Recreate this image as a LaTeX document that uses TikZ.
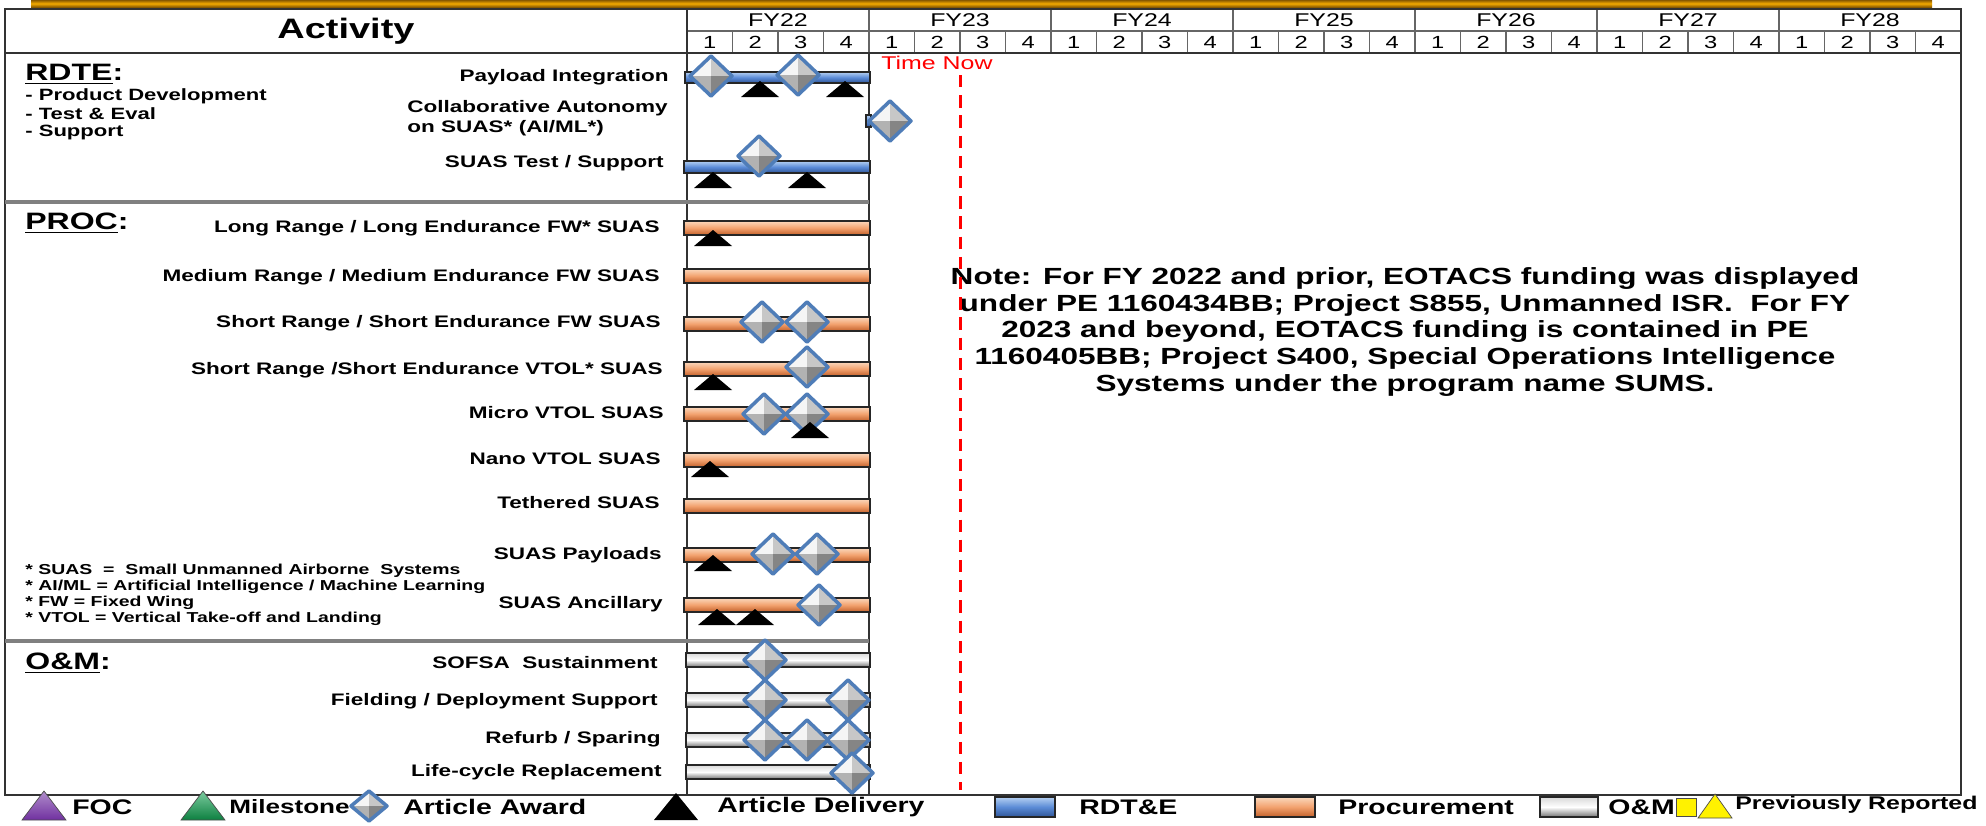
\documentclass[tikz,border=0pt]{standalone}
\usepackage{fontspec}
\setmainfont{Liberation Sans}[FakeStretch=1.35]
\usepackage{tikz}
\usetikzlibrary{positioning}

\definecolor{rdteblue}{HTML}{5B8BD6}
\definecolor{rdtelight}{HTML}{B5D0F2}
\definecolor{rdtedark}{HTML}{2F5597}
\definecolor{procorange}{HTML}{F2A16E}
\definecolor{proclight}{HTML}{FBD8BC}
\definecolor{procdark}{HTML}{C2602A}
\definecolor{awardblue}{HTML}{4F7DB8}
\definecolor{topgold}{HTML}{F4AA00}
\definecolor{topbrown}{HTML}{8A5A00}
\definecolor{focpurple}{HTML}{7030A0}
\definecolor{msgreen}{HTML}{10A050}

% one article-award diamond: centre x, centre y, half width, half height
\newcommand{\awardmark}[4]{%
    \fill[black!4]  (#1-#3,#2) -- (#1,#2-#4) -- (#1,#2) -- cycle;
    \fill[black!22] (#1,#2-#4) -- (#1+#3,#2) -- (#1,#2) -- cycle;
    \fill[black!30] (#1-#3,#2) -- (#1,#2+#4) -- (#1,#2) -- cycle;
    \fill[black!48] (#1+#3,#2) -- (#1,#2+#4) -- (#1,#2) -- cycle;
    \draw[award] (#1-#3,#2) -- (#1,#2-#4) -- (#1+#3,#2) -- (#1,#2+#4) -- cycle;}

\begin{document}
\begin{tikzpicture}[
        x=0.02cm, y=-0.02cm,
        font=\fontsize{9.5pt}{11pt}\selectfont\bfseries,
        frame/.style   ={draw=black!80, line width=1.1pt},
        grid/.style    ={draw=black!60, line width=0.8pt},
        secline/.style ={draw=black!50, line width=1.8pt},
        head/.style    ={font=\fontsize{16pt}{18pt}\selectfont\bfseries},
        fylbl/.style   ={font=\fontsize{10.5pt}{12pt}\selectfont\mdseries, inner sep=0pt},
        qlbl/.style    ={font=\fontsize{10pt}{12pt}\selectfont\mdseries, inner sep=0pt},
        sect/.style    ={font=\fontsize{13.5pt}{15pt}\selectfont\bfseries, anchor=west, inner sep=0pt},
        sub/.style     ={font=\fontsize{9.3pt}{10pt}\selectfont\bfseries, anchor=west, inner sep=0pt},
        rowlbl/.style  ={anchor=east, inner sep=0pt},
        fnote/.style   ={font=\fontsize{8.2pt}{9.1pt}\selectfont\bfseries, anchor=west, align=left, inner sep=0pt},
        rdtebar/.style ={draw=black!85, line width=0.7pt, top color=rdtelight, bottom color=rdtedark, middle color=rdteblue},
        procbar/.style ={draw=black!85, line width=0.7pt, top color=proclight, bottom color=procdark, middle color=procorange},
        ombar/.style   ={draw=black!85, line width=0.7pt, top color=black!15, bottom color=black!55, middle color=white},
        award/.style   ={draw=awardblue, line width=2pt, line join=round},
        deliv/.style   ={fill=black},
        tnow/.style    ={draw=red, line width=1.7pt, dash pattern=on 7pt off 4.5pt},
        tnowlbl/.style ={font=\fontsize{10.5pt}{12pt}\selectfont\mdseries, text=red, anchor=west, inner sep=0pt},
        note/.style    ={font=\fontsize{13.3pt}{15.2pt}\selectfont\bfseries, align=center},
        leg/.style     ={font=\fontsize{12pt}{14pt}\selectfont\bfseries, anchor=west, inner sep=0pt},
        legsm/.style   ={font=\fontsize{10.5pt}{12pt}\selectfont\bfseries, anchor=west, inner sep=0pt}
    ]

    \useasboundingbox (0,0) rectangle (1986,825);
    \fill[white] (0,0) rectangle (1986,825);

    % gold rule along the top
    \shade[top color=topbrown, bottom color=topbrown, middle color=topgold] (31,0) rectangle (1932,7);

    % table frame and header grid
    \draw[grid] (687,31) -- (1961,31);
    \foreach \k in {0,...,27}
        \draw[grid] (687+45.5*\k,31) -- (687+45.5*\k,53);
    \foreach \k in {0,...,7}
        \draw[grid] (687+182*\k,9) -- (687+182*\k,53);
    \draw[frame] (5,9) rectangle (1961,795);
    \draw[frame] (5,53) -- (1961,53);
    \draw[frame] (687,9) -- (687,795);
    \draw[frame] (869,53) -- (869,795);
    \draw[secline] (5,202) -- (869,202);
    \draw[secline] (5,641) -- (869,641);

    \node[head] (act) at (346,31) {Activity};
    \foreach \fy [count=\k from 0] in {22,...,28}
        \node[fylbl] (fy\fy) at (778+182*\k,20) {FY\fy};
    \foreach \k in {0,...,27} {
        \pgfmathtruncatemacro\qq{mod(\k,4)+1}
        \node[qlbl] (q\k) at (709.75+45.5*\k,42) {\qq};
    }

    % activity column
    \node[sect] (rdte) at (25,74) {\underline{RDTE}:};
    \node[sub] (rdte1) at (25,96) {- Product Development};
    \node[sub] (rdte2) at (25,114) {- Test \& Eval};
    \node[sub] (rdte3) at (25,132) {- Support};
    \node[rowlbl] (payint) at (669,77) {Payload Integration};
    \node[rowlbl, anchor=west, align=left, font=\fontsize{9.5pt}{11.2pt}\selectfont\bfseries]
        (collab) at (407,118) {Collaborative Autonomy\\on SUAS* (AI/ML*)};
    \node[rowlbl] (suastest) at (664,163) {SUAS Test / Support};

    \node[sect] (proc) at (25,223) {\underline{PROC}:};
    \node[rowlbl] (lrle) at (660,228) {Long Range / Long Endurance FW* SUAS};
    \node[rowlbl] (mrme) at (660,277) {Medium Range / Medium Endurance FW SUAS};
    \node[rowlbl] (srfw) at (661,323) {Short Range / Short Endurance FW SUAS};
    \node[rowlbl] (srvtol) at (663,370) {Short Range /Short Endurance VTOL* SUAS};
    \node[rowlbl] (micro) at (664,413) {Micro VTOL SUAS};
    \node[rowlbl] (nano) at (661,459) {Nano VTOL SUAS};
    \node[rowlbl] (tether) at (660,503) {Tethered SUAS};
    \node[rowlbl] (payl) at (662,555) {SUAS Payloads};
    \node[rowlbl] (ancil) at (663,604) {SUAS Ancillary};
    \node[fnote] (fnotes) at (25,595) {* SUAS\ \ =\ \ Small Unmanned Airborne\ \ Systems\\
        * AI/ML = Artificial Intelligence / Machine Learning\\* FW = Fixed Wing\\
        * VTOL = Vertical Take-off and Landing};

    \node[sect] (om) at (25,663) {\underline{O\&M}:};
    \node[rowlbl] (sofsa) at (658,663) {SOFSA\ \ Sustainment};
    \node[rowlbl] (field) at (658,701) {Fielding / Deployment Support};
    \node[rowlbl] (refurb) at (661,739) {Refurb / Sparing};
    \node[rowlbl] (lcr) at (662,772) {Life-cycle Replacement};

    % bars, FY22
    \draw[rdtebar] (685,72) rectangle (870,83);
    \draw[rdtebar] (866,115) rectangle (871,127);
    \draw[rdtebar] (684,161) rectangle (870,173);
    \foreach \y in {228,276,324,369,414,460,506,555,605}
        \draw[procbar] (684,\y-7) rectangle (870,\y+7);
    \foreach \y in {660,700,740,772}
        \draw[ombar] (686,\y-7) rectangle (870,\y+7);

    % article awards
    \foreach \x/\y in {711/76, 798/75, 890/121, 759/156, 762/322, 807/322, 807/367,
                       764/414, 807/414, 773/554, 817/554, 819/605, 765/660,
                       765/700, 848/700, 765/740, 807/740, 848/740, 852/773}
        {\awardmark{\x}{\y}{21}{20}}

    % article deliveries
    \foreach \x/\y in {760/97, 845/97, 713/188, 807/188, 713/246, 713/390,
                       810/438, 710/477, 713/571, 717/625, 755/625}
        \fill[deliv] (\x-19,\y) -- (\x,\y-16) -- (\x+19,\y) -- cycle;

    % note and time now
    \node[note] (note) at (1405,332) {Note: For FY 2022 and prior, EOTACS funding was displayed\\
        under PE 1160434BB; Project S855, Unmanned ISR.\ \ For FY\\
        2023 and beyond, EOTACS funding is contained in PE\\
        1160405BB; Project S400, Special Operations Intelligence\\
        Systems under the program name SUMS.};
    \node[tnowlbl] (tnowlbl) at (881,63) {Time Now};
    \draw[tnow] (960,75) -- (960,790);

    % legend
    \shade[top color=focpurple!55!white, bottom color=focpurple, draw=black!70]
        (22,820) -- (44,791) -- (66,820) -- cycle;
    \node[leg] (lfoc) at (72,807) {FOC};
    \shade[top color=msgreen!55!white, bottom color=msgreen!80!black, draw=black!70]
        (181,820) -- (203,791) -- (225,820) -- cycle;
    \node[leg, font=\fontsize{11pt}{13pt}\selectfont\bfseries] (lmile) at (229,807) {Milestone};
    \awardmark{369}{806}{18}{15}
    \node[leg] (laward) at (403,807) {Article Award};
    \fill[deliv] (654,820) -- (676,793) -- (698,820) -- cycle;
    \node[leg] (ldeliv) at (717,807) {Article Delivery};
    \draw[rdtebar] (995,797) rectangle (1055,817);
    \node[leg] (lrdte) at (1079,807) {RDT\&E};
    \draw[procbar] (1255,797) rectangle (1315,817);
    \node[leg] (lproc) at (1338,807) {Procurement};
    \draw[ombar] (1540,797) rectangle (1598,817);
    \node[leg] (lom) at (1608,807) {O\&M};
    \draw[fill=yellow, draw=black!70] (1676,798) rectangle (1696,816);
    \draw[fill=yellow, draw=black!70] (1698,818) -- (1715,794) -- (1732,818) -- cycle;
    \node[legsm] (lprev) at (1735,805) {Previously Reported};

\end{tikzpicture}
\end{document}
